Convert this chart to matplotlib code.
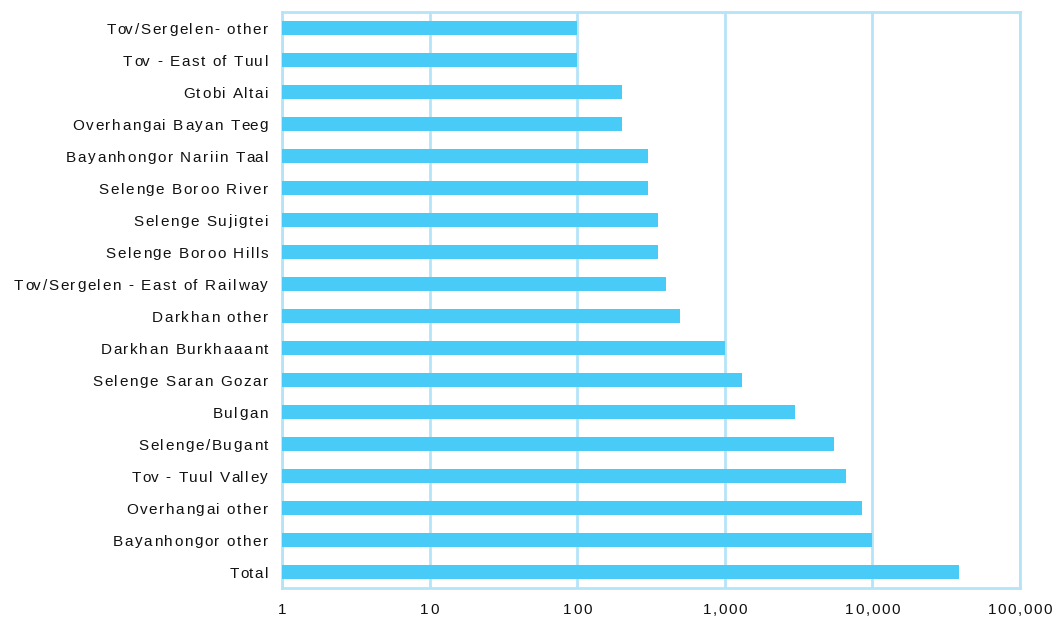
import matplotlib
matplotlib.use("Agg")
import matplotlib.pyplot as plt
from matplotlib.font_manager import FontProperties
from matplotlib.transforms import blended_transform_factory, ScaledTranslation

# regions, top to bottom as shown
regions = [
    "Tov/Sergelen- other", "Tov - East of Tuul", "Gtobi Altai",
    "Overhangai Bayan Teeg", "Bayanhongor Nariin Taal", "Selenge Boroo River",
    "Selenge Sujigtei", "Selenge Boroo Hills", "Tov/Sergelen - East of Railway",
    "Darkhan other", "Darkhan Burkhaaant", "Selenge Saran Gozar", "Bulgan",
    "Selenge/Bugant", "Tov - Tuul Valley", "Overhangai other",
    "Bayanhongor other", "Total",
]
values = [100, 100, 200, 200, 300, 300, 350, 355, 400, 500,
          1000, 1300, 3000, 5500, 6600, 8500, 10000, 38700]
xticks = [1, 10, 100, 1000, 10000, 100000]
xtick_labels = ["1", "10", "100", "1,000", "10,000", "100,000"]

bar_color = "#48CBF6"
grid_color = "#B5E4F8"
text_color = "#111111"

plt.rcParams["font.family"] = ["Liberation Sans", "DejaVu Sans"]
DPI = 100
W, H = 1056, 619

fig = plt.figure(figsize=(W / DPI, H / DPI), dpi=DPI)
ax = fig.add_axes([282 / W, 1 - 588 / H, (1020 - 282) / W, (588 - 12) / H])

ypos = list(range(len(regions)))[::-1]
ax.barh(ypos, values, height=0.42, color=bar_color, zorder=3)

ax.set_xscale("log")
ax.set_xlim(1, 100000)
ax.set_ylim(-0.5, len(regions) - 0.5)
ax.set_xticks(xticks)
ax.set_xticklabels([])
ax.set_yticks(ypos)
ax.set_yticklabels([])
ax.minorticks_off()
ax.tick_params(axis="both", length=0)

ax.grid(axis="x", color=grid_color, linewidth=2, zorder=1)
for s in ax.spines.values():
    s.set_color(grid_color)
    s.set_linewidth(2)

# letter-spaced labels, drawn char by char
renderer = fig.canvas.get_renderer()
prop = FontProperties(family=["Liberation Sans", "DejaVu Sans"], size=11)
TRACK = 1.6  # extra px between letters
CAP = 0.72 * 11 * DPI / 72  # cap height in px


def text_w(s):
    w, _, _ = renderer.get_text_width_height_descent(s, prop, ismath=False)
    return w


def spaced(s, x_px, y, ytrans, ha="right"):
    ref = text_w("x")
    offs = [text_w(s[:i] + "x") - ref for i in range(len(s))]
    total = text_w(s) + TRACK * (len(s) - 1)
    if ha == "right":
        x0 = x_px - total
    elif ha == "center":
        x0 = x_px - total / 2
    else:
        x0 = x_px
    # baseline sits half a cap height below the given centre
    tr = blended_transform_factory(fig.dpi_scale_trans, ytrans) + \
        ScaledTranslation(0, -CAP / 2 / DPI, fig.dpi_scale_trans)
    for i, ch in enumerate(s):
        if ch == " ":
            continue
        fig.text((x0 + offs[i] + TRACK * i) / DPI, y, ch, transform=tr,
                 fontproperties=prop, color=text_color, ha="left", va="baseline")


for label, y in zip(regions, ypos):
    spaced(label, 268, y, ax.transData)

for v, lab in zip(xticks, xtick_labels):
    xp = ax.transData.transform((v, 1))[0]
    spaced(lab, xp, 1 - 609 / H, fig.transFigure, ha="center")

fig.savefig("out.png", dpi=DPI)
